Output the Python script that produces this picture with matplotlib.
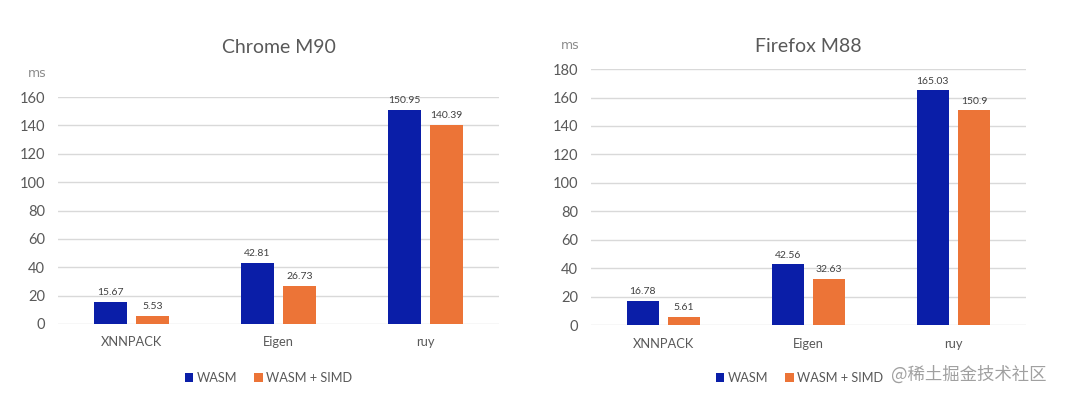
import matplotlib
matplotlib.use("Agg")
import matplotlib.pyplot as plt
import numpy as np

categories = ["XNNPACK", "Eigen", "ruy"]
series_names = ["WASM", "WASM + SIMD"]
chrome_wasm = [15.67, 42.81, 150.95]
chrome_simd = [5.53, 26.73, 140.39]
firefox_wasm = [16.78, 42.56, 165.03]
firefox_simd = [5.61, 32.63, 150.9]
chrome_ticks = [0, 20, 40, 60, 80, 100, 120, 140, 160]
firefox_ticks = [0, 20, 40, 60, 80, 100, 120, 140, 160, 180]
titles = ["Chrome M90", "Firefox M88"]
unit = "ms"
watermark = "@稀土掘金技术社区"

BLUE = "#0A1EA8"
ORANGE = "#EC7437"
plt.rcParams['font.family'] = ['Lato', 'DejaVu Sans']

fig = plt.figure(figsize=(10.8, 3.98), dpi=100)

def draw(rect, title, wasm, simd, ticks, legend_xy, title_pad):
    ax = fig.add_axes(rect)
    x = np.arange(len(categories))
    w = 0.225
    off = 0.1425
    b1 = ax.bar(x - off, wasm, w, color=BLUE, label=series_names[0], zorder=3)
    b2 = ax.bar(x + off, simd, w, color=ORANGE, label=series_names[1], zorder=3)
    for bars, vals in ((b1, wasm), (b2, simd)):
        for r, v in zip(bars, vals):
            ax.annotate(f"{v:g}", (r.get_x() + r.get_width() / 2, v),
                        xytext=(0, 3.5), textcoords="offset points",
                        ha="center", va="bottom", fontsize=7.5, color="#404040")
    ax.set_xlim(-0.5, len(categories) - 0.5)
    ax.set_ylim(0, ticks[-1])
    ax.set_yticks(ticks)
    ax.set_xticks(x)
    ax.set_xticklabels(categories, fontsize=9.3, color="#595959")
    ax.tick_params(axis="y", labelsize=10.5, colors="#595959", length=0, pad=9.4)
    ax.tick_params(axis="x", length=0, pad=9)
    ax.grid(axis="y", color="#d9d9d9", linewidth=1, zorder=0)
    for s in ax.spines.values():
        s.set_visible(False)
    ax.set_axisbelow(True)
    ax.set_title(title, fontsize=14, color="#595959", pad=title_pad)
    ax.annotate(unit, (0, 1), xycoords="axes fraction", xytext=(-15, 17),
                textcoords="offset points", fontsize=9, color="#8c8c8c",
                family="DejaVu Sans", ha="center", va="center")
    ax.legend(loc="center", bbox_to_anchor=legend_xy, ncol=2, frameon=False,
              handlelength=0.65, handleheight=0.65, handletextpad=0.3,
              columnspacing=1.3, fontsize=9.2, labelcolor="#595959")
    return ax

ax1 = draw([0.0537, 0.186, 0.4083, 0.570], titles[0], chrome_wasm, chrome_simd,
           chrome_ticks, (0.478, -0.238), 32)
ax2 = draw([0.5472, 0.1834, 0.4028, 0.643], titles[1], firefox_wasm, firefox_simd,
           firefox_ticks, (0.48, -0.207), 12)

fig.text(0.969, 0.058, watermark, ha="right", va="center", fontsize=12.5,
         color="#a0a0a0", family=["Noto Sans CJK SC", "DejaVu Sans"])

fig.savefig("out.png", dpi=100, facecolor="white")
